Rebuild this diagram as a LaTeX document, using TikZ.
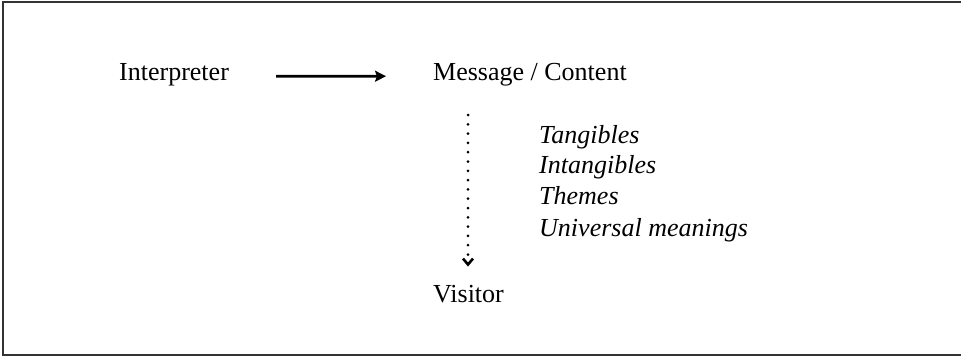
\documentclass[tikz,border=0pt]{standalone}
\usepackage{fontspec}
\setmainfont{Liberation Serif}
\usetikzlibrary{arrows.meta,positioning,calc}

\begin{document}
\begin{tikzpicture}[x=1pt,y=-1pt,>=Stealth,
 txt/.style={inner sep=0pt,anchor=base west,font=\fontsize{26}{31}\selectfont},
 topic/.style={txt,font=\fontsize{26}{31}\selectfont\itshape}]
 \useasboundingbox (0,0) rectangle (961,357);
 \draw[line width=1.5pt,black!80] (962,2)--(3,2)--(3,355)--(962,355);
 \node[txt] (interp) at (119,80) {Interpreter};
 \node[txt] (msg) at (433,80) {Message / Content};
 \node[txt] (visitor) at (433,302) {Visitor};
 \coordinate (flow) at (468,115);
 \node[topic] (tang) at (539,143) {Tangibles};
 \node[topic] (intang) at (539,173) {Intangibles};
 \node[topic] (theme) at (539,204) {Themes};
 \node[topic] (univ) at (539,236) {Universal meanings};
 \draw[line width=2.8pt,shorten <=47pt,shorten >=47pt,
 -{Stealth[length=11pt,width=11pt,inset=2pt]}]
 ([yshift=-2pt]interp.east)--([yshift=-2pt]msg.west);
 \draw[line width=3pt,line cap=round,dash pattern=on 0pt off 9.3pt,
 -{Straight Barb[length=6pt,width=10pt,line width=2.6pt]},shorten >=18pt]
 (flow)--(flow|-visitor.north);
\end{tikzpicture}
\end{document}
